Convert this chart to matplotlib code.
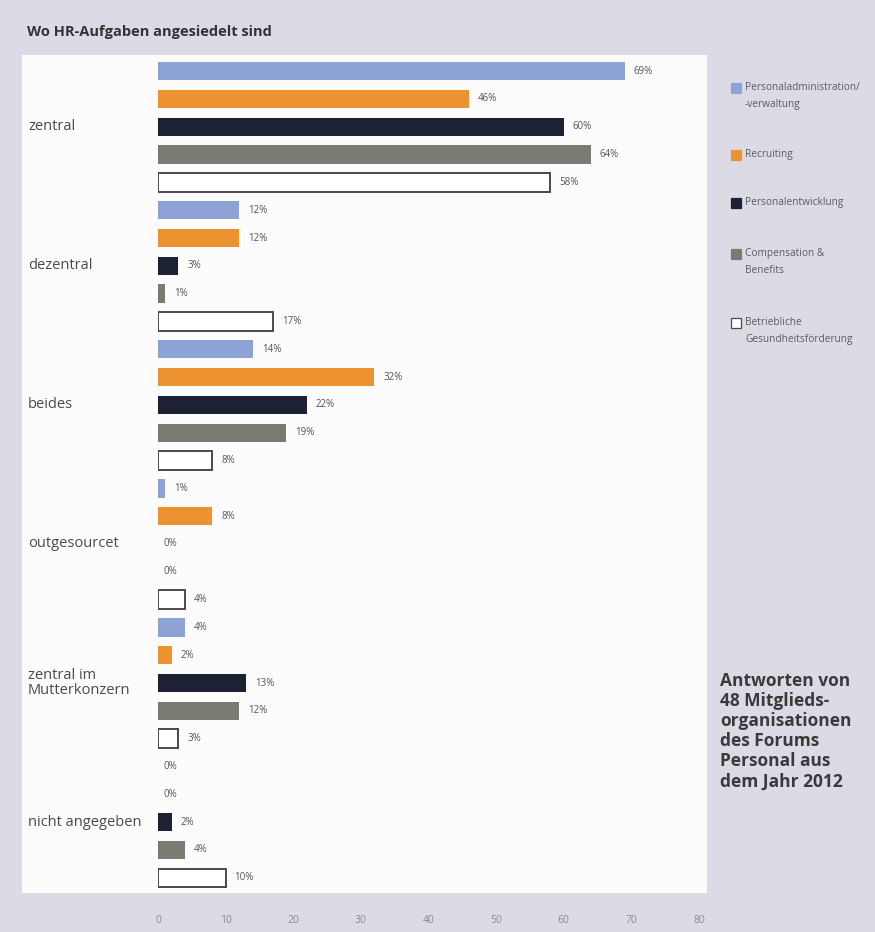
import matplotlib
matplotlib.use("Agg")
import matplotlib.pyplot as plt
from matplotlib.patches import Rectangle
import matplotlib.transforms as mtransforms

plt.rcParams['font.family'] = ['Open Sans', 'DejaVu Sans']

# ---- data ----
categories = ["zentral", "dezentral", "beides", "outgesourcet",
              "zentral im\nMutterkonzern", "nicht angegeben"]
series = ["Personaladministration/\n-verwaltung", "Recruiting",
          "Personalentwicklung", "Compensation &\nBenefits",
          "Betriebliche\nGesundheitsförderung"]
personaladministration = [69, 12, 14, 1, 4, 0]
recruiting = [46, 12, 32, 8, 2, 0]
personalentwicklung = [60, 3, 22, 0, 13, 2]
compensation = [64, 1, 19, 0, 12, 4]
gesundheit = [58, 17, 8, 4, 3, 10]
values = [personaladministration, recruiting, personalentwicklung,
          compensation, gesundheit]
xticks = [0, 10, 20, 30, 40, 50, 60, 70, 80]
title = "Wo HR-Aufgaben angesiedelt sind"
note = "Antworten von\n48 Mitglieds-\norganisationen\ndes Forums\nPersonal aus\ndem Jahr 2012"

# ---- styles ----
face = ["#8da3d6", "#ec9230", "#1c2233", "#7b7b74", "#ffffff"]
edge = ["none", "none", "none", "none", "#4a4a4a"]

W, H = 875, 932
fig = plt.figure(figsize=(W / 100, H / 100), dpi=100)
fig.patch.set_facecolor("#dcdbe5")

# white panel (behind axes)
fig.patches.append(Rectangle((22 / W, 1 - 893 / H), (707 - 22) / W, (893 - 55) / H,
                             transform=fig.transFigure, fc="#fcfcfc", ec="none", zorder=-5))

ax = fig.add_axes([158 / W, 1 - 893 / H, (699 - 158) / W, (893 - 55) / H])
ax.set_zorder(1)
ax.patch.set_alpha(0)
for s in ax.spines.values():
    s.set_visible(False)

n_ser = len(series)
for si in range(n_ser):
    ys = [gi * n_ser + si for gi in range(len(categories))]
    ax.barh(ys, values[si], height=0.66, color=face[si], edgecolor=edge[si],
            linewidth=1.4 if edge[si] != "none" else 0, zorder=3)
    for y, v in zip(ys, values[si]):
        ax.annotate(f"{v}%", (v, y), xytext=(9 if v > 0 else 5, 0),
                    textcoords="offset pixels", va="center", ha="left",
                    fontsize=7, color="#555555")

n_bars = len(categories) * n_ser
ax.set_ylim(n_bars - 1 + 0.55, -0.58)
ax.set_xlim(0, 80)
ax.set_xticks(xticks)
ax.set_xticklabels([str(t) for t in xticks])
ax.tick_params(axis="x", length=0, pad=16, labelsize=7.5, labelcolor="#8a8a95")
ax.set_yticks([])

# category labels
trans = mtransforms.blended_transform_factory(fig.transFigure, ax.transData)
for gi, cat in enumerate(categories):
    ax.text(28 / W, gi * n_ser + 2, cat, transform=trans, ha="left", va="center",
            fontsize=10.5, color="#4a4a4a", linespacing=1.05)

# title
fig.text(27 / W, 1 - 32 / H, title, ha="left", va="center", fontsize=10.5,
         fontweight="bold", color="#333333")

# legend (manual)
leg_y = [88, 155, 203, 254, 323]
for si in range(n_ser):
    y = leg_y[si]
    fig.patches.append(Rectangle((731 / W, 1 - (y + 5) / H), 10 / W, 10 / H,
                                 transform=fig.transFigure, fc=face[si],
                                 ec=edge[si] if edge[si] != "none" else face[si],
                                 lw=0.9, zorder=3))
    fig.text(745 / W, 1 - (y - 6) / H, series[si], ha="left", va="top",
             fontsize=7.3, color="#5a5a66", linespacing=1.75)

# note
fig.text(720 / W, 1 - 672 / H, note, ha="left", va="top", fontsize=12.5,
         fontweight="bold", color="#3a3a3a", linespacing=1.15)

fig.savefig("out.png", dpi=100, facecolor=fig.get_facecolor())
